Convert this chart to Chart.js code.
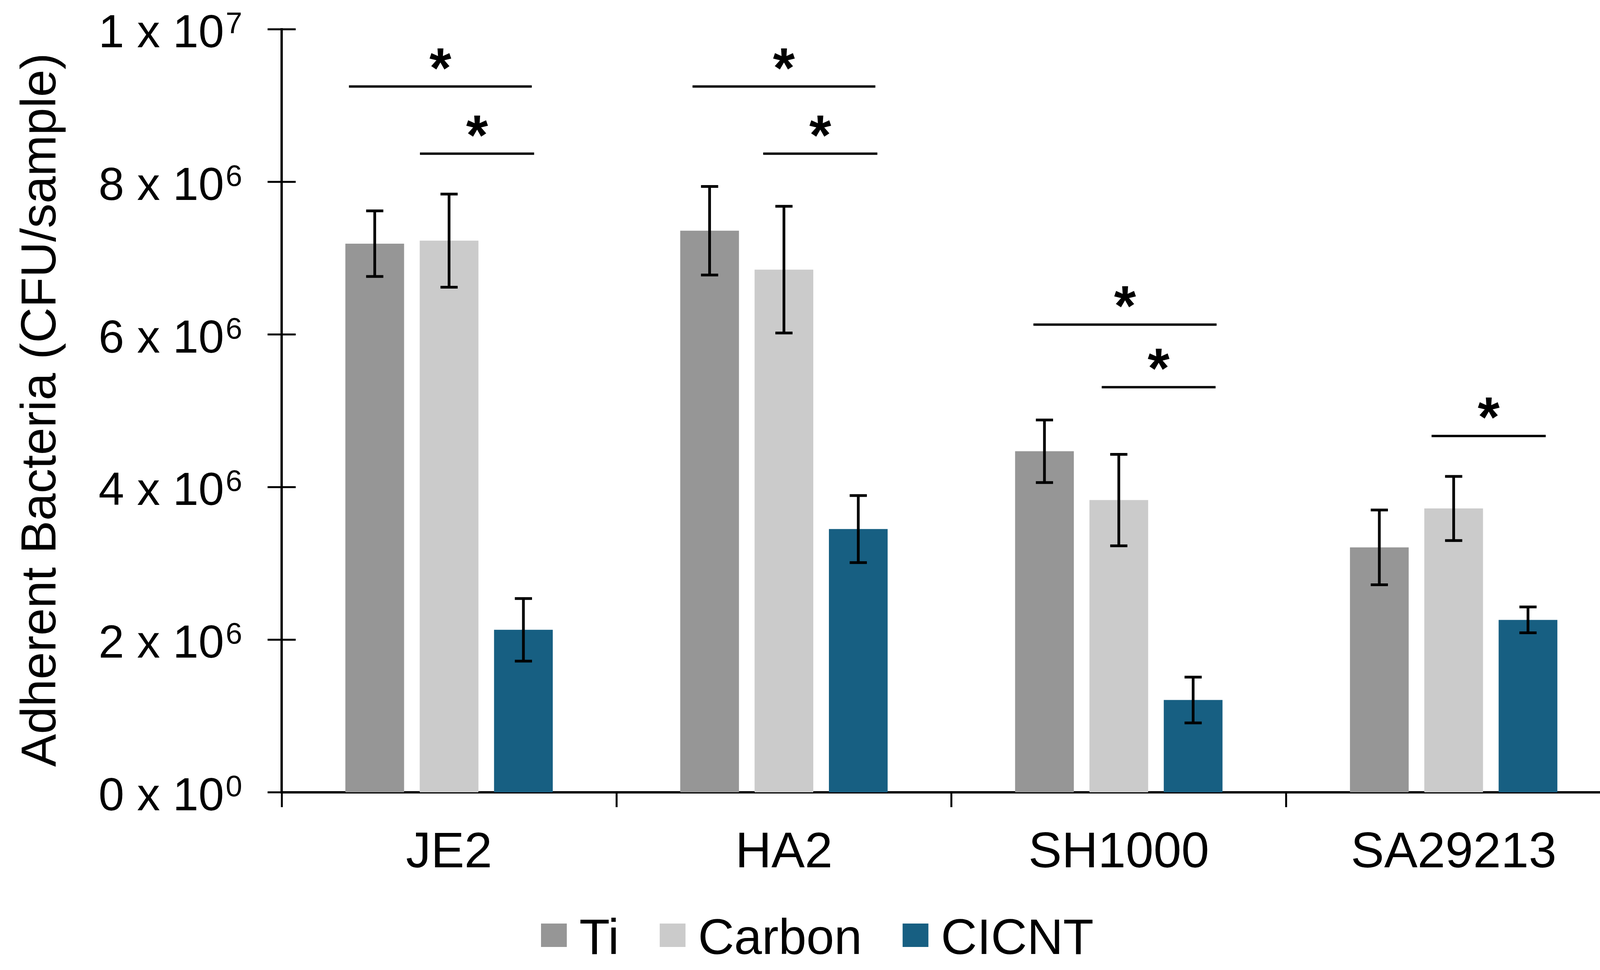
<!DOCTYPE html>
<html><head><meta charset="utf-8">
<script src="https://cdn.jsdelivr.net/npm/chart.js@4.4.1/dist/chart.umd.min.js"></script>
<style>html,body{margin:0;padding:0;background:#fff;overflow:hidden}canvas{display:block}</style>
</head><body><canvas id="c" width="4190" height="2484" style="width:4190px;height:2484px"></canvas>
<script>
// ---- data ----
const categories = ['JE2', 'HA2', 'SH1000', 'SA29213'];
const seriesNames = ['Ti', 'Carbon', 'CICNT'];
const tiValues     = [7.19e6, 7.36e6, 4.47e6, 3.21e6];
const carbonValues = [7.23e6, 6.85e6, 3.83e6, 3.72e6];
const cicntValues  = [2.13e6, 3.45e6, 1.21e6, 2.26e6];
const tiErrors     = [0.43e6, 0.58e6, 0.41e6, 0.49e6];
const carbonErrors = [0.61e6, 0.83e6, 0.60e6, 0.42e6];
const cicntErrors  = [0.41e6, 0.44e6, 0.30e6, 0.17e6];
const yTickValues    = [0, 2e6, 4e6, 6e6, 8e6, 1e7];
const yTickMantissas = ['0', '2', '4', '6', '8', '1'];
const yTickExponents = ['0', '6', '6', '6', '6', '7'];
const yTitle = 'Adherent Bacteria (CFU/sample)';
// significance brackets: category index, start / end (category units from centre), height (value)
const bracketCategory = [0, 0, 1, 1, 2, 2, 3];
const bracketStart    = [-0.299, -0.087, -0.273, -0.062, -0.255, -0.051, -0.066];
const bracketEnd      = [0.247, 0.254, 0.273, 0.279, 0.292, 0.289, 0.275];
const bracketLevel    = [9.25e6, 8.37e6, 9.25e6, 8.37e6, 6.13e6, 5.31e6, 4.67e6];
const bracketMark     = ['*', '*', '*', '*', '*', '*', '*'];

const colors = ['#969696', '#cbcbcb', '#175f82'];
const errorSets = [tiErrors, carbonErrors, cicntErrors];
const FONT = '"Liberation Sans", Arial, sans-serif';

const overlay = {
  id: 'overlay',
  afterDatasetsDraw(chart) {
    const ctx = chart.ctx, xs = chart.scales.x, ys = chart.scales.y;
    ctx.save();
    ctx.strokeStyle = '#000';
    ctx.fillStyle = '#000';
    // error bars
    ctx.lineWidth = 7;
    chart.data.datasets.forEach((ds, di) => {
      const meta = chart.getDatasetMeta(di);
      meta.data.forEach((bar, i) => {
        const v = ds.data[i], e = errorSets[di][i];
        const yt = ys.getPixelForValue(v + e), yb = ys.getPixelForValue(v - e);
        ctx.beginPath();
        ctx.moveTo(bar.x, yt); ctx.lineTo(bar.x, yb);
        ctx.moveTo(bar.x - 22, yt); ctx.lineTo(bar.x + 22, yt);
        ctx.moveTo(bar.x - 22, yb); ctx.lineTo(bar.x + 22, yb);
        ctx.stroke();
      });
    });
    // brackets + stars
    ctx.lineWidth = 6;
    ctx.font = 'bold 144px ' + FONT;
    ctx.textAlign = 'center';
    ctx.textBaseline = 'alphabetic';
    bracketCategory.forEach((c, k) => {
      const x1 = xs.getPixelForValue(c + bracketStart[k]);
      const x2 = xs.getPixelForValue(c + bracketEnd[k]);
      const py = ys.getPixelForValue(bracketLevel[k]);
      ctx.beginPath(); ctx.moveTo(x1, py); ctx.lineTo(x2, py); ctx.stroke();
      ctx.fillText(bracketMark[k], (x1 + x2) / 2, py + 2);
    });
    ctx.restore();
  },
  afterDraw(chart) {
    const ctx = chart.ctx, ys = chart.scales.y;
    const ax = chart.chartArea.left;
    ctx.save();
    ctx.strokeStyle = '#000'; ctx.fillStyle = '#000';
    // y ticks crossing the axis + labels with superscripts
    ctx.lineWidth = 5;
    yTickValues.forEach((v, i) => {
      const py = ys.getPixelForValue(v);
      ctx.beginPath(); ctx.moveTo(ax - 36, py); ctx.lineTo(ax + 36, py); ctx.stroke();
      const right = ax - 101;
      ctx.textBaseline = 'alphabetic';
      ctx.textAlign = 'right';
      ctx.font = '76px ' + FONT;
      const supW = ctx.measureText(yTickExponents[i]).width;
      ctx.fillText(yTickExponents[i], right, py + 10);
      ctx.font = '118px ' + FONT;
      ctx.fillText(yTickMantissas[i] + ' x 10', right - supW - 4, py + 46);
    });
    // y title
    ctx.save();
    ctx.translate(142, 1050);
    ctx.rotate(-Math.PI / 2);
    ctx.font = '126px ' + FONT;
    ctx.textAlign = 'center';
    ctx.textBaseline = 'alphabetic';
    ctx.fillText(yTitle, 0, 0);
    ctx.restore();
    // legend
    ctx.font = '128px ' + FONT;
    ctx.textAlign = 'left';
    ctx.textBaseline = 'alphabetic';
    let lx = 1385;
    chart.data.datasets.forEach((ds) => {
      ctx.fillStyle = ds.backgroundColor;
      ctx.fillRect(lx, 2365, 66, 60);
      ctx.fillStyle = '#000';
      ctx.fillText(ds.label, lx + 66 + 32, 2443);
      lx += 66 + 32 + ctx.measureText(ds.label).width + 104;
    });
    ctx.restore();
  }
};

new Chart(document.getElementById('c'), {
  type: 'bar',
  data: {
    labels: categories,
    datasets: [
      { label: seriesNames[0], data: tiValues, backgroundColor: colors[0] },
      { label: seriesNames[1], data: carbonValues, backgroundColor: colors[1] },
      { label: seriesNames[2], data: cicntValues, backgroundColor: colors[2] }
    ]
  },
  options: {
    responsive: false,
    maintainAspectRatio: false,
    animation: false,
    devicePixelRatio: 1,
    categoryPercentage: 0.666,
    barPercentage: 0.79,
    layout: { padding: { left: 0, right: 40, top: 75, bottom: 0 } },
    plugins: { legend: { display: false }, tooltip: { enabled: false }, title: { display: false } },
    scales: {
      x: {
        grid: { display: true, offset: true, drawOnChartArea: false, drawTicks: true, tickLength: 38, color: '#000', lineWidth: 5 },
        border: { display: true, color: '#000', width: 6 },
        ticks: { color: '#000', font: { family: FONT, size: 128 }, padding: 42, maxRotation: 0 },
        afterFit(scale) { scale.height = 455; }
      },
      y: {
        min: 0, max: 1e7,
        grid: { display: false },
        border: { display: true, color: '#000', width: 6 },
        ticks: { display: false, stepSize: 2e6 },
        afterFit(scale) { scale.width = 721; }
      }
    }
  },
  plugins: [overlay]
});
</script></body></html>
